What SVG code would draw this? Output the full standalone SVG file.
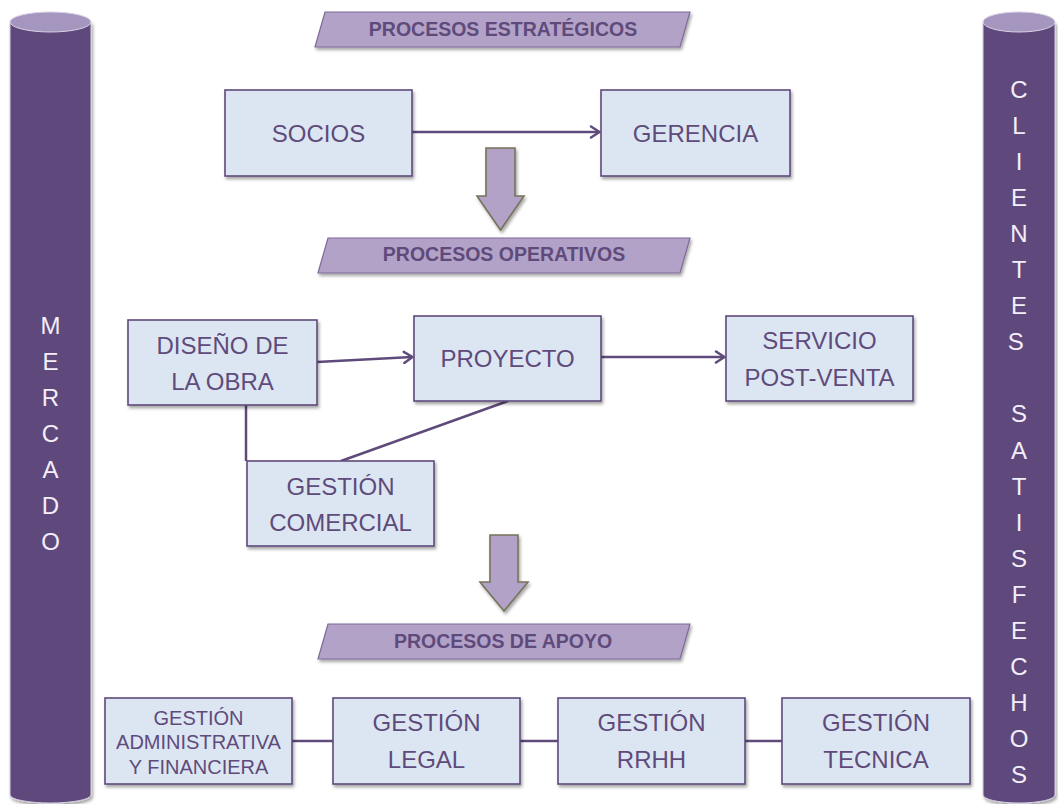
<svg xmlns="http://www.w3.org/2000/svg" width="1058" height="804" viewBox="0 0 1058 804">
<defs>
<style>
.box{fill:#dce6f2;stroke:#604a7b;stroke-width:1.6;filter:url(#sh)}
.bt{font-family:"Liberation Sans",Arial,sans-serif;font-size:24px;fill:#5f4b7b;text-anchor:middle}
.st{font-size:20px}
.ban{fill:#b3a2c7;stroke:#7e6a9a;stroke-width:1.2;filter:url(#sh)}
.banT{font-family:"Liberation Sans",Arial,sans-serif;font-size:19.5px;font-weight:bold;fill:#5f4b7b;text-anchor:middle}
.cyl{fill:#5f4a7b;stroke:#d8d0e4;stroke-width:1;filter:url(#sh)}
.cylTop{fill:#a596bf;stroke:#d8d0e4;stroke-width:1}
.ct{font-family:"Liberation Sans",Arial,sans-serif;font-size:24px;fill:#f3eefa;text-anchor:middle}
.con{stroke:#5f4b7b;stroke-width:2.5;fill:none}
.blk{fill:#b3a2c7;stroke:#77725c;stroke-width:1.6;filter:url(#sh)}
</style>
<filter id="sh" x="-10%" y="-10%" width="130%" height="130%">
<feDropShadow dx="1.5" dy="2.5" stdDeviation="1.5" flood-color="#000" flood-opacity="0.35"/>
</filter>
<marker id="ah" markerWidth="14" markerHeight="14" refX="10" refY="7" orient="auto" markerUnits="userSpaceOnUse">
<path d="M2,1.5 L10.5,7 L2,12.5" fill="none" stroke="#5f4b7b" stroke-width="2.5" stroke-linecap="round" stroke-linejoin="round"/>
</marker>
</defs>

<g id="mercado">
<path class="cyl" d="M10,22 L10,795 A40.5,8 0 0 0 91,795 L91,22 Z"/>
<ellipse class="cylTop" cx="50.5" cy="22" rx="40.5" ry="10"/>
<text class="ct">
<tspan x="50.5" y="333.5">M</tspan><tspan x="50.5" y="369.5">E</tspan><tspan x="50.5" y="405.5">R</tspan><tspan x="50.5" y="441.5">C</tspan><tspan x="50.5" y="477.5">A</tspan><tspan x="50.5" y="513.5">D</tspan><tspan x="50.5" y="549.5">O</tspan>
</text>
</g>

<g id="clientes">
<path class="cyl" d="M983,22 L983,795 A36,8 0 0 0 1055,795 L1055,22 Z"/>
<ellipse class="cylTop" cx="1019" cy="22" rx="36" ry="10"/>
<text class="ct">
<tspan x="1019" y="97.5">C</tspan><tspan x="1019" y="133.6">L</tspan><tspan x="1019" y="169.7">I</tspan><tspan x="1019" y="205.8">E</tspan><tspan x="1019" y="241.9">N</tspan><tspan x="1019" y="278">T</tspan><tspan x="1019" y="314.1">E</tspan><tspan x="1019" y="350.2">S</tspan>
<tspan x="1019" y="422.4">S</tspan><tspan x="1019" y="458.5">A</tspan><tspan x="1019" y="494.6">T</tspan><tspan x="1019" y="530.7">I</tspan><tspan x="1019" y="566.8">S</tspan><tspan x="1019" y="602.9">F</tspan><tspan x="1019" y="639">E</tspan><tspan x="1019" y="675.1">C</tspan><tspan x="1019" y="711.2">H</tspan><tspan x="1019" y="747.3">O</tspan><tspan x="1019" y="783.4">S</tspan>
</text>
</g>

<g id="banner-estrategicos">
<polygon class="ban" points="325,12 690,12 680,47 315,47"/>
<text class="banT" x="503" y="36">PROCESOS ESTRATÉGICOS</text>
</g>
<g id="banner-operativos">
<polygon class="ban" points="328,238 690,238 680,273 318,273"/>
<text class="banT" x="504" y="261">PROCESOS OPERATIVOS</text>
</g>
<g id="banner-apoyo">
<polygon class="ban" points="328,624 690,624 680,659 318,659"/>
<text class="banT" x="503" y="648">PROCESOS DE APOYO</text>
</g>

<g id="connectors">
<line class="con" x1="412" y1="132" x2="599" y2="132" marker-end="url(#ah)"/>
<line class="con" x1="317" y1="362" x2="412" y2="357" marker-end="url(#ah)"/>
<line class="con" x1="601" y1="357" x2="724" y2="357" marker-end="url(#ah)"/>
<line class="con" x1="246" y1="405" x2="246" y2="461"/>
<line class="con" x1="508" y1="401" x2="341" y2="461"/>
<line class="con" x1="292" y1="741" x2="333" y2="741"/>
<line class="con" x1="520" y1="741" x2="558" y2="741"/>
<line class="con" x1="745" y1="741" x2="782" y2="741"/>
<polygon class="blk" points="486,148 515,148 515,196 524,196 500.5,230 477,196 486,196"/>
<polygon class="blk" points="490,535 518,535 518,582 528,582 504,611 480,582 490,582"/>
</g>

<g id="socios">
<rect class="box" x="225" y="90" width="187" height="86"/>
<text class="bt" x="318.5" y="141.5">SOCIOS</text>
</g>
<g id="gerencia">
<rect class="box" x="601" y="90" width="189" height="86"/>
<text class="bt" x="695.5" y="141.5">GERENCIA</text>
</g>
<g id="diseno">
<rect class="box" x="128" y="320" width="189" height="85"/>
<text class="bt"><tspan x="222.5" y="353.5">DISEÑO DE</tspan><tspan x="222.5" y="389.5">LA OBRA</tspan></text>
</g>
<g id="proyecto">
<rect class="box" x="414" y="316" width="187" height="85"/>
<text class="bt" x="507.5" y="366.5">PROYECTO</text>
</g>
<g id="servicio">
<rect class="box" x="726" y="316" width="187" height="85"/>
<text class="bt"><tspan x="819.5" y="348.5">SERVICIO</tspan><tspan x="819.5" y="385.5">POST-VENTA</tspan></text>
</g>
<g id="comercial">
<rect class="box" x="247" y="461" width="187" height="85"/>
<text class="bt"><tspan x="340.5" y="494.5">GESTIÓN</tspan><tspan x="340.5" y="530.5">COMERCIAL</tspan></text>
</g>
<g id="administrativa">
<rect class="box" x="105" y="698" width="187" height="86"/>
<text class="bt st"><tspan x="198.5" y="724.5">GESTIÓN</tspan><tspan x="198.5" y="749">ADMINISTRATIVA</tspan><tspan x="198.5" y="774">Y FINANCIERA</tspan></text>
</g>
<g id="legal">
<rect class="box" x="333" y="698" width="187" height="86"/>
<text class="bt"><tspan x="426.5" y="730.5">GESTIÓN</tspan><tspan x="426.5" y="767.5">LEGAL</tspan></text>
</g>
<g id="rrhh">
<rect class="box" x="558" y="698" width="187" height="86"/>
<text class="bt"><tspan x="651.5" y="730.5">GESTIÓN</tspan><tspan x="651.5" y="767.5">RRHH</tspan></text>
</g>
<g id="tecnica">
<rect class="box" x="782" y="698" width="188" height="86"/>
<text class="bt"><tspan x="876" y="730.5">GESTIÓN</tspan><tspan x="876" y="767.5">TECNICA</tspan></text>
</g>
</svg>
